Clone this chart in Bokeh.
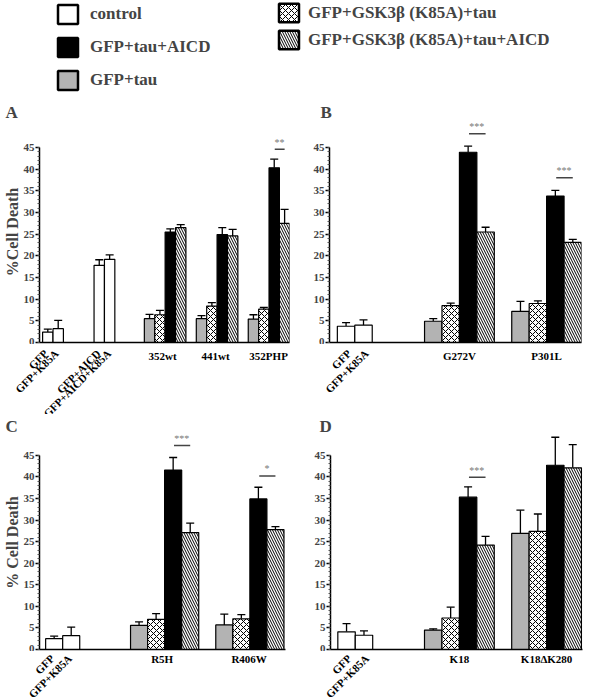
from math import pi
from bokeh.plotting import figure
from bokeh.models import (ColumnDataSource, Range1d, FixedTicker, Whisker, TeeHead,
                          Legend, LegendItem)
from bokeh.layouts import column, row
from bokeh.embed import file_html
from bokeh.resources import INLINE
from bokeh.core.properties import value

FONT = "Liberation Serif"

# ---------------- data ----------------
series_names = ["control", "GFP+tau+AICD", "GFP+tau",
                "GFP+GSK3β (K85A)+tau", "GFP+GSK3β (K85A)+tau+AICD"]

# Panel A
A_ctrl_labels = ["GFP", "GFP+K85A", "GFP+AICD", "GFP+AICD+K85A"]
A_ctrl = [2.4, 3.2, 17.8, 19.2]
A_ctrl_err = [0.7, 1.9, 1.3, 1.0]
A_groups = ["352wt", "441wt", "352PHP"]
A_tau = [5.5, 5.5, 5.4]
A_tau_err = [1.0, 0.7, 1.0]
A_k85a = [6.4, 8.4, 7.7]
A_k85a_err = [1.0, 0.8, 0.4]
A_aicd = [25.5, 24.9, 40.3]
A_aicd_err = [0.7, 1.6, 2.0]
A_k85a_aicd = [26.5, 24.6, 27.5]
A_k85a_aicd_err = [0.7, 1.5, 3.2]
A_sig_group = [2]
A_sig_stars = ["**"]
A_sig_y = [44.6]

# Panel B
B_ctrl_labels = ["GFP", "GFP+K85A"]
B_ctrl = [3.75, 4.0]
B_ctrl_err = [0.85, 1.2]
B_groups = ["G272V", "P301L"]
B_tau = [4.9, 7.2]
B_tau_err = [0.6, 2.3]
B_k85a = [8.5, 9.0]
B_k85a_err = [0.6, 0.6]
B_aicd = [43.9, 33.8]
B_aicd_err = [1.4, 1.3]
B_k85a_aicd = [25.5, 23.1]
B_k85a_aicd_err = [1.1, 0.7]
B_sig_group = [0, 1]
B_sig_stars = ["***", "***"]
B_sig_y = [48.2, 38.0]

# Panel C
C_ctrl_labels = ["GFP", "GFP+K85A"]
C_ctrl = [2.5, 3.2]
C_ctrl_err = [0.6, 2.0]
C_groups = ["R5H", "R406W"]
C_tau = [5.6, 5.7]
C_tau_err = [0.8, 2.5]
C_k85a = [7.0, 7.1]
C_k85a_err = [1.3, 1.0]
C_aicd = [41.6, 34.9]
C_aicd_err = [2.9, 2.7]
C_k85a_aicd = [27.1, 27.8]
C_k85a_aicd_err = [2.2, 0.7]
C_sig_group = [0, 1]
C_sig_stars = ["***", "*"]
C_sig_y = [47.3, 40.2]

# Panel D
D_ctrl_labels = ["GFP", "GFP+K85A"]
D_ctrl = [4.1, 3.3]
D_ctrl_err = [1.9, 1.0]
D_groups = ["K18", "K18ΔK280"]
D_tau = [4.5, 26.9]
D_tau_err = [0.3, 5.4]
D_k85a = [7.3, 27.4]
D_k85a_err = [2.5, 4.0]
D_aicd = [35.3, 42.7]
D_aicd_err = [2.4, 6.5]
D_k85a_aicd = [24.2, 42.1]
D_k85a_aicd_err = [2.0, 5.4]
D_sig_group = [0]
D_sig_stars = ["***"]
D_sig_y = [39.9]

# ---------------- styles ----------------
GRAY = "#b3b3b3"
STYLE_CONTROL = dict(fill_color="white")
STYLE_TAU = dict(fill_color=GRAY)
STYLE_K85A = dict(fill_color="white", hatch_pattern="x", hatch_scale=6,
                  hatch_color="black", hatch_weight=1)
STYLE_AICD = dict(fill_color="black")
STYLE_K85A_AICD = dict(fill_color="white", hatch_pattern="\\", hatch_scale=5,
                       hatch_color="black", hatch_weight=1)
GROUP_STYLES = [STYLE_TAU, STYLE_K85A, STYLE_AICD, STYLE_K85A_AICD]
LABEL_TEXT = dict(text_font=value(FONT), text_font_style="bold",
                  text_font_size="11px", text_color="black")


def add_bars(p, xs, vals, errs, style):
    src = ColumnDataSource(dict(x=xs, top=vals,
                                upper=[v + e for v, e in zip(vals, errs)]))
    p.vbar(x="x", top="top", bottom=0, width=1, source=src,
           line_color="black", line_width=1.2, **style)
    p.add_layout(Whisker(source=src, base="x", lower="top", upper="upper",
                         dimension="height", line_color="black", line_width=1.3,
                         lower_head=None,
                         upper_head=TeeHead(size=8, line_color="black",
                                            line_width=1.3)))
    return src


def bare(p):
    p.outline_line_color = None
    p.grid.visible = False
    p.background_fill_color = "white"
    p.border_fill_color = "white"


def make_panel(ctrl_labels, ctrl, ctrl_err, groups, series, sig_group, sig_stars,
               sig_y, lay):
    p = figure(width=lay["w"], height=lay["h"],
               x_range=Range1d(0, lay["xend"]), y_range=Range1d(0, lay["yend"]),
               output_backend="svg", toolbar_location=None,
               min_border_left=lay["bl"], min_border_right=lay["br"],
               min_border_top=lay["bt"], min_border_bottom=lay["bb"])
    bare(p)

    # panel letter as title
    p.title.text = lay["letter"]
    p.title.align = "left"
    p.title.offset = lay["letter_offset"]
    p.title.standoff = 0
    p.title.text_font = FONT
    p.title.text_font_style = "bold"
    p.title.text_font_size = "17px"

    # y axis
    ya = p.yaxis[0]
    ya.ticker = FixedTicker(ticks=list(range(0, 46, 5)),
                            minor_ticks=list(range(0, 46)))
    ya.bounds = (0, 45)
    ya.axis_line_width = 1.5
    ya.axis_line_color = "black"
    ya.major_tick_out = 4
    ya.major_tick_in = 0
    ya.major_tick_line_width = 1.3
    ya.minor_tick_out = 2
    ya.minor_tick_in = 0
    ya.minor_tick_line_color = "#555555"
    ya.major_label_standoff = 1
    ya.major_label_text_font = FONT
    ya.major_label_text_font_style = "bold"
    ya.major_label_text_font_size = "11px"
    if lay.get("ylabel"):
        ya.axis_label = lay["ylabel"]
        ya.axis_label_standoff = 0
        ya.axis_label_text_font = FONT
        ya.axis_label_text_font_style = "bold"
        ya.axis_label_text_font_size = "16px"

    # x axis: line only (labels live in the strip below)
    xa = p.xaxis[0]
    xa.ticker = FixedTicker(ticks=[])
    xa.axis_line_width = 1.5
    xa.axis_line_color = "black"
    xa.major_tick_line_color = None
    xa.minor_tick_line_color = None
    xa.major_tick_out = 0
    xa.major_tick_in = 0
    xa.minor_tick_out = 0
    xa.major_label_standoff = 0
    xa.major_label_text_font_size = "0px"

    # bars
    add_bars(p, lay["ctrl_x"], ctrl, ctrl_err, STYLE_CONTROL)
    g0 = lay["g0"]
    for i, (vals, errs) in enumerate(series):
        xs = [g0 + 5 * g + i for g in range(len(groups))]
        add_bars(p, xs, vals, errs, GROUP_STYLES[i])

    # significance markers
    ssrc = ColumnDataSource(dict(
        x0=[g0 + 5 * g + 2.05 for g in sig_group],
        x1=[g0 + 5 * g + 3.0 for g in sig_group],
        xm=[g0 + 5 * g + 2.5 for g in sig_group],
        y=sig_y,
        ys=[y + 0.4 for y in sig_y],
        stars=sig_stars))
    p.segment(x0="x0", y0="y", x1="x1", y1="y", source=ssrc,
              line_color="#444444", line_width=1.5)
    p.text(x="xm", y="ys", text="stars", source=ssrc, text_align="center",
           text_baseline="bottom", text_font=value(FONT), text_font_size="10px",
           text_color="#777777")

    # ---- label strip under the panel, sharing the same x mapping ----
    u = (lay["w"] - lay["bl"] - lay["br"]) / lay["xend"]   # px per x unit
    sh = lay["sh"]
    s = figure(width=lay["w"], height=sh,
               x_range=Range1d(-lay["bl"] / u, (lay["w"] - lay["bl"]) / u),
               y_range=Range1d(-sh, 0), x_axis_type=None, y_axis_type=None,
               output_backend="svg", toolbar_location=None,
               min_border_left=0, min_border_right=0, min_border_top=0,
               min_border_bottom=0)
    bare(s)
    gsrc = ColumnDataSource(dict(x=[g0 + 5 * g + 1.5 for g in range(len(groups))],
                                 label=groups))
    s.text(x="x", y=-lay["gy"], text="label", source=gsrc, text_align="center",
           text_baseline="middle", **LABEL_TEXT)
    csrc = ColumnDataSource(dict(x=lay["ctrl_x"], label=ctrl_labels))
    s.text(x="x", y=-lay["ry"], text="label", source=csrc, angle=pi / 4,
           text_align="right", text_baseline="middle", x_offset=3, **LABEL_TEXT)
    return p, s


ROW1 = dict(h=244, bt=21, bb=2, yend=51, sh=70, gy=11, ry=7)
ROW2 = dict(h=237, bt=19, bb=2, yend=49.6, sh=48, gy=7, ry=5)

pA, sA = make_panel(A_ctrl_labels, A_ctrl, A_ctrl_err, A_groups,
                    [(A_tau, A_tau_err), (A_k85a, A_k85a_err),
                     (A_aicd, A_aicd_err), (A_k85a_aicd, A_k85a_aicd_err)],
                    A_sig_group, A_sig_stars, A_sig_y,
                    dict(ROW1, w=292, bl=34, br=3, xend=24.06,
                         ctrl_x=[0.8, 1.8, 5.75, 6.75], g0=10.59,
                         letter="A", letter_offset=-34, ylabel="%Cell Death"))
pB, sB = make_panel(B_ctrl_labels, B_ctrl, B_ctrl_err, B_groups,
                    [(B_tau, B_tau_err), (B_k85a, B_k85a_err),
                     (B_aicd, B_aicd_err), (B_k85a_aicd, B_k85a_aicd_err)],
                    B_sig_group, B_sig_stars, B_sig_y,
                    dict(ROW1, w=292, bl=37, br=3, xend=14.45,
                         ctrl_x=[0.95, 1.95], g0=5.95,
                         letter="B", letter_offset=-9))
pC, sC = make_panel(C_ctrl_labels, C_ctrl, C_ctrl_err, C_groups,
                    [(C_tau, C_tau_err), (C_k85a, C_k85a_err),
                     (C_aicd, C_aicd_err), (C_k85a_aicd, C_k85a_aicd_err)],
                    C_sig_group, C_sig_stars, C_sig_y,
                    dict(ROW2, w=292, bl=34, br=7, xend=14.43,
                         ctrl_x=[0.86, 1.86], g0=5.84,
                         letter="C", letter_offset=-34, ylabel="% Cell Death"))
pD, sD = make_panel(D_ctrl_labels, D_ctrl, D_ctrl_err, D_groups,
                    [(D_tau, D_tau_err), (D_k85a, D_k85a_err),
                     (D_aicd, D_aicd_err), (D_k85a_aicd, D_k85a_aicd_err)],
                    D_sig_group, D_sig_stars, D_sig_y,
                    dict(ROW2, w=292, bl=38, br=2, xend=14.45,
                         ctrl_x=[0.92, 1.92], g0=5.89,
                         letter="D", letter_offset=-11))

# ---------------- legend figure ----------------
LH = 100
lf = figure(width=584, height=LH, x_range=Range1d(0, 1), y_range=Range1d(0, 1),
            x_axis_type=None, y_axis_type=None, output_backend="svg",
            toolbar_location=None, min_border_left=0, min_border_right=0,
            min_border_top=0, min_border_bottom=0)
bare(lf)
legend_styles = [STYLE_CONTROL, STYLE_AICD, STYLE_TAU, STYLE_K85A, STYLE_K85A_AICD]
legend_renderers = []
for st in legend_styles:
    r = lf.vbar(x=[0.5], top=[1], width=1, line_color="black", line_width=2.5, **st)
    r.visible = False
    legend_renderers.append(r)

common = dict(padding=0, margin=0, border_line_color=None,
              background_fill_alpha=0, glyph_width=25,
              inactive_fill_alpha=0,
              label_text_font=FONT, label_text_font_style="bold",
              label_text_font_size="17px", label_text_baseline="middle")
leg1 = Legend(items=[LegendItem(label=series_names[i], renderers=[legend_renderers[i]])
                     for i in range(3)],
              location=(55, LH - 2 - 90), glyph_height=24, label_height=24,
              spacing=9, label_standoff=10, **common)
leg2 = Legend(items=[LegendItem(label=series_names[i], renderers=[legend_renderers[i]])
                     for i in range(3, 5)],
              location=(276, LH - 1 - 50), glyph_height=23, label_height=23,
              spacing=4, label_standoff=7, **common)
lf.add_layout(leg1)
lf.add_layout(leg2)

layout = column(lf, row(pA, pB), row(sA, sB), row(pC, pD), row(sC, sD))
open("out.html", "w").write(file_html(layout, INLINE))
